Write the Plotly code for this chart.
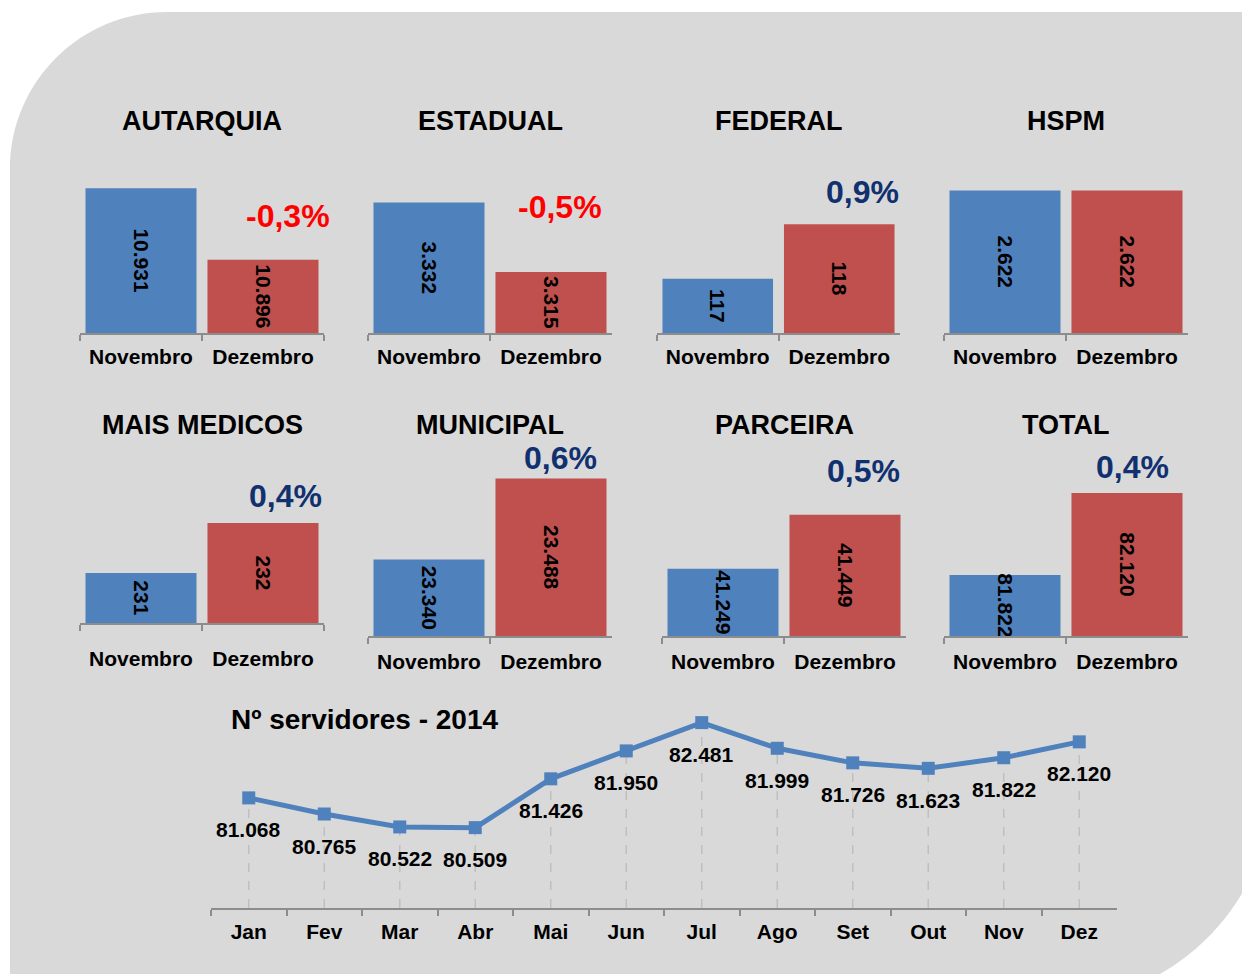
import plotly.graph_objects as go

# ---- data ----
panels = ["AUTARQUIA", "ESTADUAL", "FEDERAL", "HSPM",
          "MAIS MEDICOS", "MUNICIPAL", "PARCEIRA", "TOTAL"]
categories = ["Novembro", "Dezembro"]
novembro = [10931, 3332, 117, 2622, 231, 23340, 41249, 81822]
dezembro = [10896, 3315, 118, 2622, 232, 23488, 41449, 82120]

months = ["Jan", "Fev", "Mar", "Abr", "Mai", "Jun",
          "Jul", "Ago", "Set", "Out", "Nov", "Dez"]
servidores = [81068, 80765, 80522, 80509, 81426, 81950,
              82481, 81999, 81726, 81623, 81822, 82120]

# ---- layout settings (pixels of the 1250x974 page) ----
PAGE_OFF = 8               # body margin of the html page
W, H = 1242, 966           # figure size
BLUE, RED = "#4F81BD", "#C0504D"
GREY_BG = "#D9D9D9"
AXIS_GREY = "#8C8C8C"
NAVY = "#10306F"
FONT = "Liberation Sans, Arial, sans-serif"

x_dom_px = [(80, 324), (368, 612), (657, 900), (944, 1188),
            (80, 324), (368, 612), (662, 906), (944, 1188)]
y_dom_px = [(170, 333)] * 4 + [(473, 623), (472, 636), (472, 636), (472, 636)]
y_ranges = [(10860, 10940), (3300, 3340), (116, 119), (0, 3000),
            (230, 233), (23200, 23500), (41000, 41607), (81600, 82196)]
title_y = [121] * 4 + [425] * 4
label_standoff = [4, 4, 4, 4, 16, 6, 6, 6]
pct_shift = [(25, 44), (9, 65), (23, 32), (0, 0),
             (22, 27), (9, 21), (18, 44), (5, 26)]


def px_x(x):
    return (x - PAGE_OFF) / W


def px_y(y):
    return 1 - (y - PAGE_OFF) / H


def fmt(v):
    return f"{v:,}".replace(",", ".")


fig = go.Figure()
annotations = []
shapes = []

# grey rounded background
k = 0.5523
r1 = 157
r2 = 223
cx2, cy2 = 1050, 780
path = (
    f"M {px_x(10)},{px_y(1010)} "
    f"L {px_x(10)},{px_y(12 + r1)} "
    f"C {px_x(10)},{px_y(12 + r1 - r1 * k)} {px_x(10 + r1 - r1 * k)},{px_y(12)} {px_x(10 + r1)},{px_y(12)} "
    f"L {px_x(cx2 + r2)},{px_y(12)} "
    f"L {px_x(cx2 + r2)},{px_y(cy2)} "
    f"C {px_x(cx2 + r2)},{px_y(cy2 + r2 * k)} {px_x(cx2 + r2 * k)},{px_y(cy2 + r2)} {px_x(cx2)},{px_y(cy2 + r2)} "
    "Z"
)
shapes.append(dict(type="path", xref="paper", yref="paper", path=path,
                   fillcolor=GREY_BG, line=dict(width=0), layer="below"))

layout_axes = {}
for i, name in enumerate(panels):
    n = i + 1
    sfx = "" if n == 1 else str(n)
    lo, hi = y_ranges[i]
    vals = [novembro[i], dezembro[i]]
    fig.add_trace(go.Bar(
        x=categories, y=[v - lo for v in vals], base=lo,
        marker=dict(color=[BLUE, RED], line=dict(width=0)),
        text=[fmt(v) for v in vals], textposition="inside",
        insidetextanchor="middle", textangle=90, constraintext="none",
        textfont=dict(family=FONT, size=21, color="black", weight="bold"),
        xaxis="x" + sfx, yaxis="y" + sfx, showlegend=False, hoverinfo="skip",
    ))
    x0, x1 = x_dom_px[i]
    yt, yb = y_dom_px[i]
    layout_axes["xaxis" + sfx] = dict(
        domain=[px_x(x0), px_x(x1)], anchor="y" + sfx, type="category",
        range=[-0.5, 1.5], autorange=False,
        showline=True, linecolor=AXIS_GREY, linewidth=2,
        ticks="outside", tickson="boundaries", ticklen=6,
        tickcolor=AXIS_GREY, tickwidth=2, showgrid=False,
        ticklabelstandoff=label_standoff[i],
        tickfont=dict(family=FONT, size=21, color="black", weight="bold"),
        fixedrange=True,
    )
    layout_axes["yaxis" + sfx] = dict(
        domain=[px_y(yb), px_y(yt)], anchor="x" + sfx, range=[lo, hi],
        autorange=False, visible=False, fixedrange=True,
    )
    annotations.append(dict(
        xref=f"x{sfx} domain", x=0.5, yref="paper", y=px_y(title_y[i]),
        text=f"<b>{name}</b>", showarrow=False, xanchor="center", yanchor="middle",
        font=dict(family=FONT, size=27, color="black"),
    ))
    change = (dezembro[i] - novembro[i]) / novembro[i] * 100
    if round(change, 1) != 0:
        dx, dy = pct_shift[i]
        annotations.append(dict(
            xref="x" + sfx, x="Dezembro", yref="y" + sfx, y=dezembro[i],
            xshift=dx, yshift=dy, showarrow=False,
            text="<b>" + f"{change:.1f}".replace(".", ",") + "%</b>",
            xanchor="center", yanchor="middle",
            font=dict(family=FONT, size=32, color="#FF0000" if change < 0 else NAVY),
        ))

# ---- line chart ----
LINE_MIN, LINE_MAX = 79000, 82906
fig.add_trace(go.Scatter(
    x=months, y=servidores, mode="lines+markers",
    line=dict(color=BLUE, width=5),
    marker=dict(symbol="square", size=13, color=BLUE),
    xaxis="x9", yaxis="y9", showlegend=False, hoverinfo="skip", cliponaxis=False,
))
layout_axes["xaxis9"] = dict(
    domain=[px_x(211), px_x(1117)], anchor="y9", type="category",
    range=[-0.5, len(months) - 0.5], autorange=False,
    showline=True, linecolor=AXIS_GREY, linewidth=2,
    ticks="outside", tickson="boundaries", ticklen=6,
    tickcolor=AXIS_GREY, tickwidth=2, showgrid=False, ticklabelstandoff=4,
    tickfont=dict(family=FONT, size=21, color="black", weight="bold"),
    fixedrange=True,
)
layout_axes["yaxis9"] = dict(
    domain=[px_y(908), px_y(700)], anchor="x9", range=[LINE_MIN, LINE_MAX],
    autorange=False, visible=False, fixedrange=True,
)
for m, v in zip(months, servidores):
    shapes.append(dict(type="line", xref="x9", yref="y9", x0=m, x1=m,
                       y0=LINE_MIN, y1=v, layer="below",
                       line=dict(color="#BFBFBF", width=1.5, dash="dash")))
    annotations.append(dict(
        xref="x9", x=m, yref="y9", y=v, yshift=-32, showarrow=False,
        text=f"<b>{fmt(v)}</b>", xanchor="center", yanchor="middle",
        font=dict(family=FONT, size=21, color="black"),
    ))
annotations.append(dict(
    xref="paper", x=px_x(229), yref="paper", y=px_y(719),
    text="<b>Nº servidores - 2014</b>", showarrow=False,
    xanchor="left", yanchor="middle",
    font=dict(family=FONT, size=28, color="black"),
))

fig.update_layout(
    width=W, height=H,
    margin=dict(l=0, r=0, t=0, b=0),
    paper_bgcolor="white", plot_bgcolor="rgba(0,0,0,0)",
    bargap=0.09, font=dict(family=FONT),
    shapes=shapes, annotations=annotations,
    **layout_axes,
)

fig.write_html("out.html")
